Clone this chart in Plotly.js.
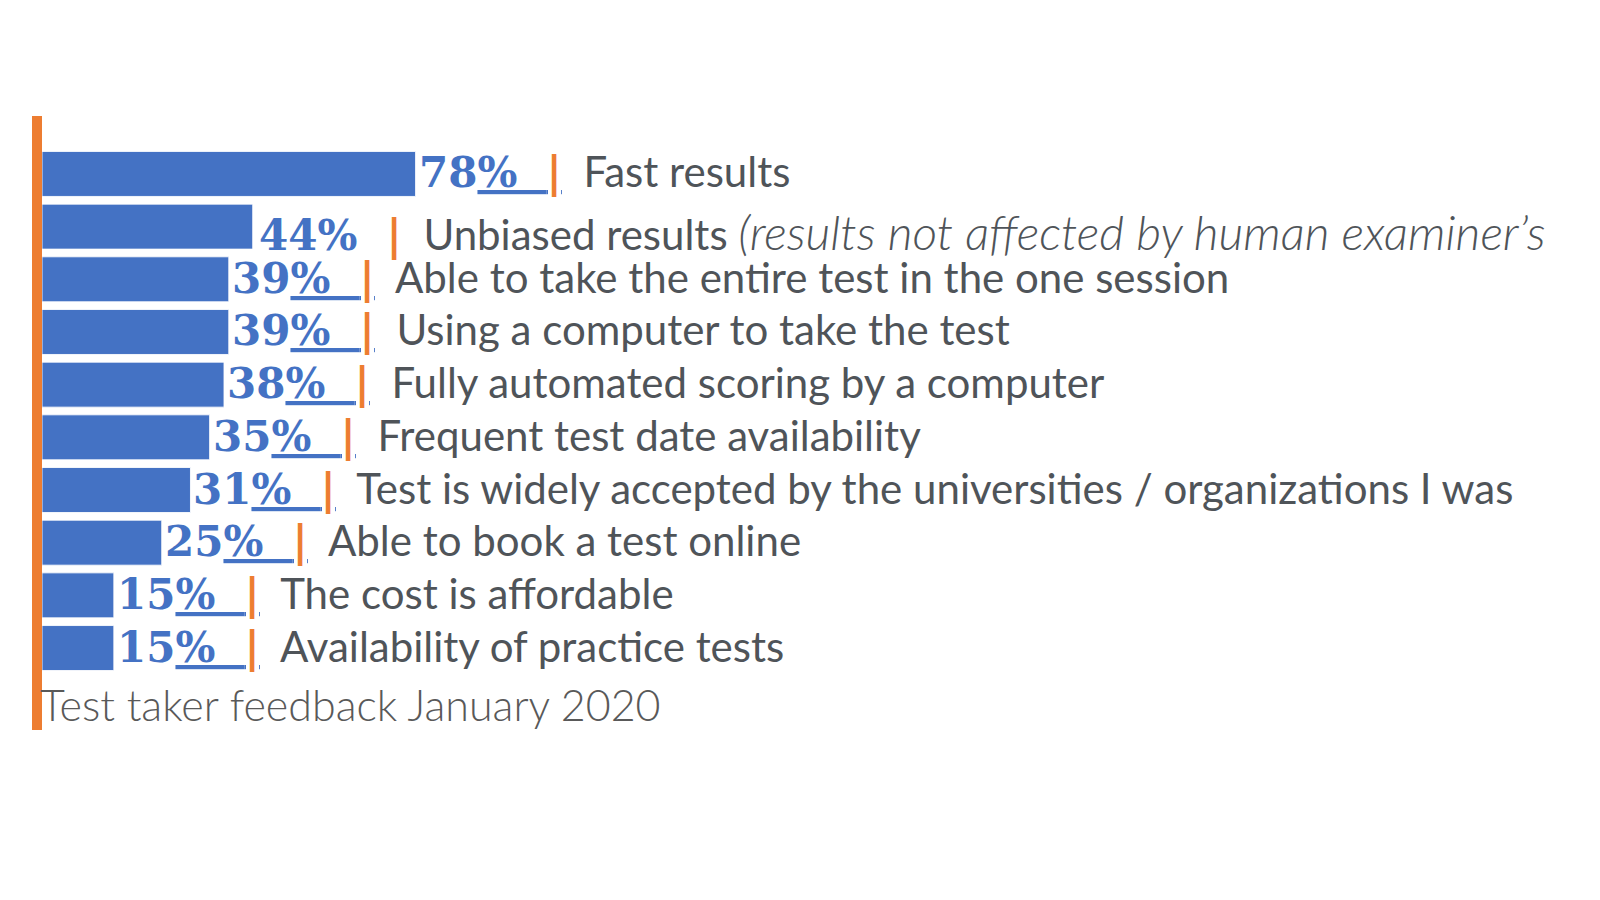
<!DOCTYPE html>
<html>
<head>
<meta charset="utf-8">
<script src="https://cdn.plot.ly/plotly-3.0.1.min.js"></script>
<style>
  html, body { margin: 0; padding: 0; background: #ffffff; }
  #chart { width: 1600px; height: 900px; }
</style>
</head>
<body>
<div id="chart"></div>
<script>
// survey answers, top to bottom
const categories = [
  'Fast results',
  'Unbiased results',
  'Able to take the entire test in the one session',
  'Using a computer to take the test',
  'Fully automated scoring by a computer',
  'Frequent test date availability',
  'Test is widely accepted by the universities / organizations I was',
  'Able to book a test online',
  'The cost is affordable',
  'Availability of practice tests'
];
const values = [78, 44, 39, 39, 38, 35, 31, 25, 15, 15];
// italic tail shown after a label (only the second row has one)
const notes = ['', '(results not affected by human examiner’s', '', '', '', '', '', '', '', ''];
const footnote = 'Test taker feedback January 2020';

const BLUE = '#4472C4';
const ORANGE = '#ED7D31';
const GREY = '#4f5459';
const NB = '\u00a0';

function labelText(i) {
  const v = values[i];
  const plain = i === 1;  // the second row has no underline
  const under = plain ? '' : 'text-decoration:underline;';
  let t = '<span style="font-family:\'DejaVu Serif\';font-weight:bold;color:' + BLUE + '">' + v +
    '<span style="' + under + '">%' + NB + NB +
    '<span style="color:' + ORANGE + '">|</span></span></span>' +
    NB + NB + '<span style="color:' + GREY + '">' + categories[i];
  if (notes[i]) t += ' <span style="font-size:48px;font-weight:300"><i>' + notes[i] + '</i></span>';
  t += '</span>';
  return t;
}

const annotations = categories.map((c, i) => ({
  x: values[i], y: c, xref: 'x', yref: 'y',
  xanchor: 'left', yanchor: 'middle',
  xshift: i === 1 ? 4 : 1,
  yshift: i === 1 ? -5 : 2,
  showarrow: false,
  align: 'left',
  text: labelText(i),
  font: {family: 'Lato', size: 42, color: GREY}
}));

annotations.push({
  x: 0, y: 0.041, xref: 'paper', yref: 'paper',
  xanchor: 'left', yanchor: 'middle',
  xshift: -4,
  showarrow: false,
  text: '<span style="font-weight:300">' + footnote + '</span>',
  font: {family: 'Lato', size: 43, color: '#595959'}
});

const trace = {
  type: 'bar',
  orientation: 'h',
  y: categories,
  x: values,
  marker: {color: BLUE, line: {color: 'rgba(255,255,255,0.85)', width: 1}},
  hoverinfo: 'skip'
};

const layout = {
  width: 1600,
  height: 900,
  margin: {l: 42, r: 0, t: 116, b: 170},
  paper_bgcolor: '#ffffff',
  plot_bgcolor: '#ffffff',
  bargap: 0.146,
  showlegend: false,
  xaxis: {range: [0, 325.3], visible: false, fixedrange: true},
  yaxis: {
    type: 'category',
    range: [10.556, -1.10],
    showticklabels: false,
    showgrid: false,
    zeroline: false,
    showline: true,
    linecolor: ORANGE,
    linewidth: 10,
    ticks: '',
    fixedrange: true
  },
  annotations: annotations
};

Plotly.newPlot('chart', [trace], layout, {displayModeBar: false, staticPlot: true});
</script>
</body>
</html>
